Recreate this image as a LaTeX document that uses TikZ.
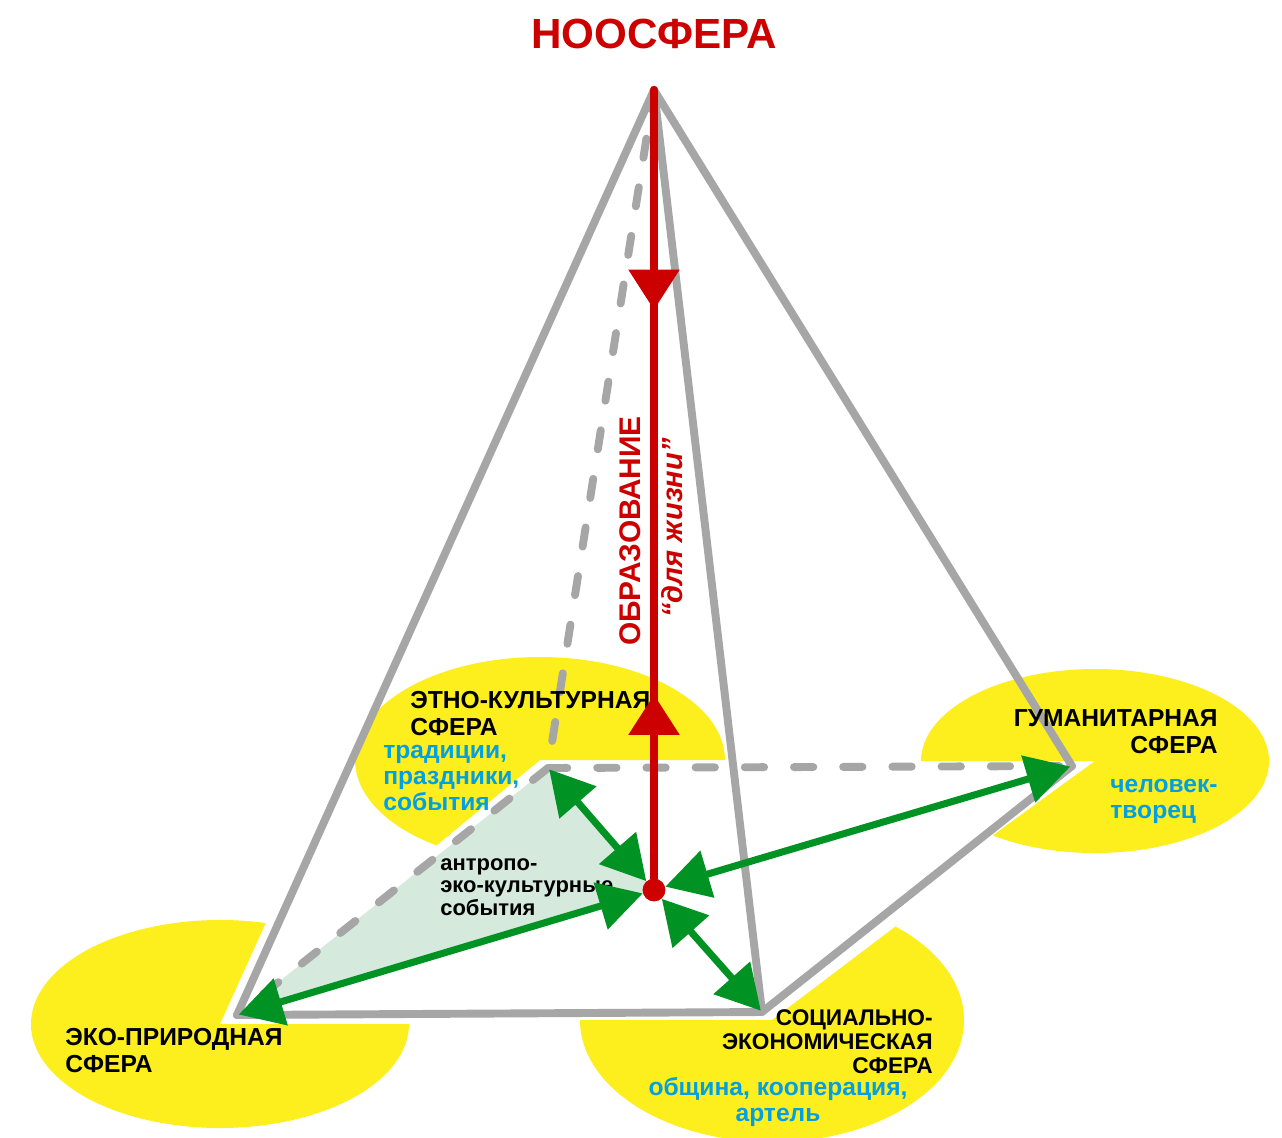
\documentclass[tikz,border=0pt]{standalone}
\usepackage{fontspec}
\setmainfont{Liberation Sans}
\usepackage{xcolor}
\usepackage{tikz}
\usetikzlibrary{arrows.meta, positioning, calc, decorations.markings}
\definecolor{myred}{RGB}{205,0,0}
\definecolor{mygreen}{RGB}{0,146,35}
\definecolor{mygray}{RGB}{166,166,166}
\definecolor{myyellow}{RGB}{253,238,30}
\definecolor{myblue}{RGB}{0,160,230}
\definecolor{myshade}{RGB}{213,233,221}
\tikzset{
  edge/.style={draw=mygray, line width=4.5pt, line cap=round, line join=round},
  hiddenedge/.style={edge, dash pattern=on 11pt off 17pt},
  link/.style={{Triangle[length=25pt,width=27pt]}-{Triangle[length=25pt,width=27pt]},
    draw=mygreen, line width=4pt, shorten >=1pt},
  axisline/.style={draw=myred, line width=4.8pt, line cap=round},
  hubdot/.style={circle, fill=myred, minimum size=13pt, inner sep=0pt},
  spherelbl/.style={font=\bfseries\fontsize{14}{15.3}\selectfont, inner sep=0pt},
  notelbl/.style={font=\bfseries\fontsize{14}{14.7}\selectfont, text=myblue, inner sep=0pt}
}

\begin{document}
\begin{tikzpicture}[x=0.02cm, y=0.02cm]
  \useasboundingbox[fill=white] (0,0) rectangle (1282,-1137);

  % Pyramid corners
  \coordinate (apex) at (654,-90);
  \coordinate (ethno) at (548,-768);
  \coordinate (eco) at (237,-1015);
  \coordinate (social) at (762,-1012);
  \coordinate (human) at (1072,-766);
  \coordinate (centre) at (654,-890);

  % Spheres
  \fill[myyellow] (540,-760) -- ++(0:185 and 103)
    arc[start angle=0, end angle=236, x radius=185, y radius=103] -- cycle;
  \fill[myyellow] (1095,-761) -- ++(234:174 and 92)
    arc[start angle=234, end angle=540, x radius=174, y radius=92] -- cycle;
  \fill[myyellow] (220,-1024) -- ++(76:189 and 104)
    arc[start angle=76, end angle=360, x radius=189, y radius=104] -- cycle;
  \fill[myyellow] (772,-1020) -- ++(180:192 and 122)
    arc[start angle=180, end angle=410, x radius=192, y radius=122] -- cycle;

  % Shaded face
  \fill[myshade] (ethno) -- (eco) -- (centre) -- cycle;

  % Edges
  \draw[hiddenedge] (apex) -- (ethno);
  \draw[hiddenedge] (ethno) -- (human);
  \draw[hiddenedge] (ethno) -- (eco);
  \draw[edge] (eco) -- (apex) -- (social);
  \draw[edge] (apex) -- (human);
  \draw[edge] (eco) -- (social) -- (human);

  % Labels (base = last line)
  \node[font=\bfseries\fontsize{24}{28}\selectfont, text=myred] (noos) at (654,-34) {НООСФЕРА};
  \node[spherelbl, align=left, anchor=base west] (ethnolbl) at (410,-735) {ЭТНО-КУЛЬТУРНАЯ\\СФЕРА};
  \node[notelbl, align=left, anchor=base west] (ethnonote) at (383,-810) {традиции,\\праздники,\\события};
  \node[spherelbl, align=right, anchor=base east] (humanlbl) at (1218,-753) {ГУМАНИТАРНАЯ\\СФЕРА};
  \node[notelbl, align=left, anchor=base west] (humannote) at (1110,-818) {человек-\\творец};
  \node[spherelbl, align=left, anchor=base west] (ecolbl) at (65,-1072) {ЭКО-ПРИРОДНАЯ\\СФЕРА};
  \node[spherelbl, font=\bfseries\fontsize{12.9}{13.6}\selectfont, align=right, anchor=base east] (sociallbl) at (933,-1073) {СОЦИАЛЬНО-\\ЭКОНОМИЧЕСКАЯ\\СФЕРА};
  \node[notelbl, align=center, anchor=base] (socialnote) at (778,-1121) {община, кооперация,\\артель};
  \node[spherelbl, font=\bfseries\fontsize{12.5}{12.8}\selectfont, align=left, anchor=base west] (facelbl) at (440,-915) {антропо-\\эко-культурные\\события};
  \node[font=\bfseries\fontsize{17}{20}\selectfont, text=myred, rotate=90, anchor=base, inner sep=0pt] (edu) at (640,-531) {ОБРАЗОВАНИЕ};
  \node[font=\bfseries\itshape\fontsize{16.5}{19}\selectfont, text=myred, rotate=90, anchor=base, inner sep=0pt] (life) at (682,-528) {“для жизни”};

  % Axis and links
  \node[hubdot] (hub) at (centre) {};
  \draw[axisline, postaction={decorate}, decoration={markings,
    mark=at position 0.279 with {\arrow{Triangle[length=23pt,width=28pt]}},
    mark=at position 0.767 with {\arrowreversed{Triangle[length=23pt,width=28pt]}}}] (apex) -- (hub);
  \draw[link] (hub) -- (ethno);
  \draw[link] (hub) -- (eco);
  \draw[link] (hub) -- (human);
  \draw[link] (hub) -- (social);
\end{tikzpicture}
\end{document}
